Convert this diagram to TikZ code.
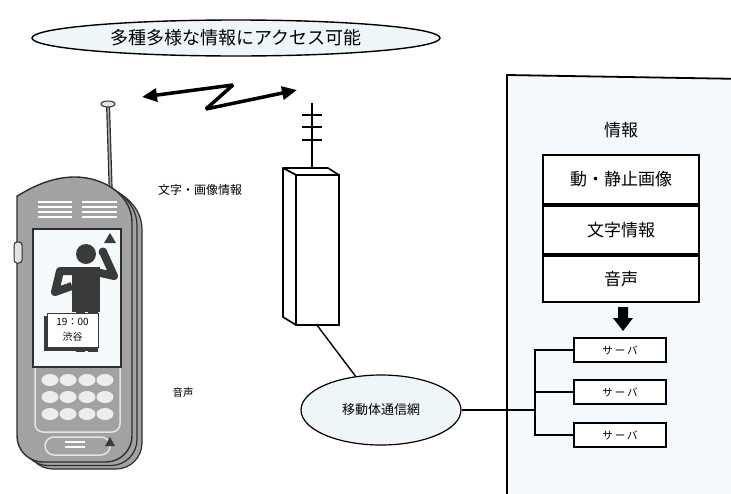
\documentclass[tikz,border=0pt]{standalone}
\usepackage{fontspec}
\newfontfamily\jpfont{Noto Sans CJK JP}
\usetikzlibrary{shapes.geometric,arrows.meta}

\definecolor{paleblue}{HTML}{EEF6FA}
\definecolor{panelblue}{HTML}{F3F9FC}
\definecolor{screenfill}{HTML}{F4FAFC}
\definecolor{casegray}{HTML}{A2A2A2}
\definecolor{caseedge}{HTML}{2E2E2E}
\definecolor{figure}{HTML}{3A3A3A}
\definecolor{keywhite}{HTML}{EDEDED}
\definecolor{trim}{HTML}{E4E4E4}

\newcommand\jpsize[1]{\jpfont\fontsize{#1}{#1}\selectfont}

\begin{document}
\begin{tikzpicture}[x=1pt,y=-1pt,
  bubble/.style={ellipse, draw, line width=1.4pt, fill=paleblue, inner sep=0pt},
  infobox/.style={draw, line width=1.8pt, fill=white, minimum width=156pt, inner sep=0pt, font=\jpsize{17}},
  serverbox/.style={draw, line width=1.6pt, fill=white, minimum width=92pt, minimum height=24pt, inner sep=0pt, font=\jpsize{10.5}},
  wire/.style={line width=1.4pt},
  caption/.style={font=\jpsize{12}, inner sep=0pt},
  casebody/.pic={\draw[pic actions] (17,222) arc[start angle=180, end angle=360, x radius=57.5, y radius=45]
      [rounded corners=26pt] -- (132,462) -- (17,462) -- cycle;},
]
\useasboundingbox (0,0) rectangle (731,493);
\clip (0,0) rectangle (731,493);
\fill[white] (0,0) rectangle (731,493);

% slogan bubble
\node[bubble, minimum width=408pt, minimum height=36pt, font=\jpsize{18}] (slogan) at (236,38) {多種多様な情報にアクセス可能};

% radio link between handset and base station
\coordinate (linkL) at (142,97);
\coordinate (zigA) at (233,85);
\coordinate (zigB) at (206,109);
\coordinate (linkR) at (297,90);
\draw[line width=3.5pt, miter limit=3, {Triangle[length=15pt,width=13pt]}-{Triangle[length=15pt,width=13pt]}]
  (linkL) -- (zigA) -- (zigB) -- (linkR);

% base station mast and housing
\coordinate (mastTop) at (312,103);
\coordinate (mastBase) at (312,168);
\draw[line width=1.6pt] (mastTop) -- (mastBase);
\foreach \y in {115,127,140} \draw[line width=1.8pt] (302,\y) -- (322,\y);
\draw[line width=1.6pt, fill=white, line join=round] (283,168) -- (328,168) -- (339,175) -- (296,175) -- cycle;
\draw[line width=1.6pt, fill=white, line join=round] (283,168) -- (296,175) -- (296,325) -- (283,317) -- cycle;
\node[draw, line width=1.6pt, fill=white, minimum width=43pt, minimum height=150pt, inner sep=0pt] (tower) at (317.5,250) {};

% labels of the link
\node[caption] (imglabel) at (200,190) {文字・画像情報};
\node[caption, font=\jpsize{10.5}] (voicelabel) at (183,393) {音声};

% mobile network
\node[bubble, line width=1.2pt, minimum width=160pt, minimum height=70pt, font=\jpsize{13}] (net) at (381,410) {移動体通信網};
\draw[wire] (tower.south) -- (net);

% information provider panel
\draw[line width=1.8pt, fill=panelblue] (507,75) -- (745,79) -- (745,510) -- (507,510) -- cycle;
\node[font=\jpsize{17}, inner sep=0pt] (infotitle) at (621,130) {情報};
\node[infobox, minimum height=49pt] (media) at (621,179.5) {動・静止画像};
\node[infobox, minimum height=48pt, anchor=north] (textinfo) at (media.south) {文字情報};
\node[infobox, minimum height=46pt, anchor=north] (sound) at (textinfo.south) {音声};

\coordinate (arrowTop) at (623,307);
\fill (arrowTop) ++(-5,0) -- ++(10,0) -- ++(0,11) -- ++(5,0) -- ++(-10,13) -- ++(-10,-13) -- ++(5,0) -- cycle;

\node[serverbox] (srvA) at (620,350) {サ\hspace{2pt}ー\hspace{2pt}バ};
\node[serverbox] (srvB) at (620,392) {サ\hspace{2pt}ー\hspace{2pt}バ};
\node[serverbox] (srvC) at (620,435) {サ\hspace{2pt}ー\hspace{2pt}バ};
\coordinate (bus) at (535,410);
\draw[wire] (srvA.west) -- (srvA.west -| bus) -- (srvC.west -| bus) -- (srvC.west);
\draw[wire] (srvB.west) -- (srvB.west -| bus);
\draw[wire] (net.east) -- (bus);

% handset: antenna
\coordinate (antTip) at (108,104);
\coordinate (antFoot) at (111,200);
\draw[line width=4pt, caseedge] (antTip) -- (antFoot);
\draw[line width=1.6pt, gray!70] (antTip) -- (antFoot);
\draw[fill=trim, draw=caseedge, line width=1pt] (antTip) ellipse[x radius=7, y radius=3];

% handset: body layers
\pic[fill=casegray, draw=caseedge, line width=1.2pt] (layerBack) at (10,7) {casebody};
\pic[fill=casegray, draw=caseedge, line width=1.2pt] (layerMid) at (5,3.5) {casebody};
\pic[fill=casegray, draw=caseedge, line width=1.4pt] (layerFront) at (0,0) {casebody};

% speaker slits
\foreach \y in {202,207,212,217} {
  \draw[white, line width=1.8pt] (38,\y) -- (72,\y);
  \draw[white, line width=1.8pt] (82,\y) -- (117,\y);
}
% side key
\draw[fill=trim, draw=caseedge, line width=1pt, rounded corners=3pt] (14,242) rectangle (22,263);

% keypad
\draw[trim, line width=1.5pt, rounded corners=8pt] (35,355) rectangle (120,432);
\foreach \cx in {50,68,87,105}
  \foreach \cy in {380,397,414}
    \fill[keywhite] (\cx,\cy) ellipse[x radius=8.5, y radius=6];
\draw[trim, line width=1.5pt, rounded corners=9pt] (45,437) rectangle (110,455);
\draw[white, line width=1.5pt] (65,442) -- (85,442);
\draw[white, line width=1.5pt] (65,447) -- (85,447);
\fill[figure] (110,437) -- (115,446) -- (105,446) -- cycle;

% display
\node[draw=caseedge, line width=1.6pt, fill=screenfill, minimum width=88pt, minimum height=138pt, inner sep=0pt] (screen) at (77,298) {};
\fill[figure] (110,233) -- (116,243) -- (104,243) -- cycle;

% caller on the display
\fill[figure] (76,300) rectangle (85,352);
\fill[figure] (88,300) rectangle (98,352);
\fill[figure] (72,267) rectangle (100,312);
\fill[figure] (86,254) circle[radius=10];
\draw[figure, line width=8pt, line join=round] (74,271) -- (60,271) -- (55,292) -- (72,286);
\draw[figure, line width=8pt, line join=round] (96,272) -- (114,276) -- (104,254);
\fill[figure] (103,252) circle[radius=4.5];

% time and place sign
\fill[figure] (44,316) rectangle (95,351);
\node[draw=figure, line width=1pt, fill=white, minimum width=51pt, minimum height=34pt, inner sep=0pt, align=center,
      font=\jpfont\fontsize{10}{15}\selectfont] (sign) at (72.5,330) {19：00\\渋谷};
\end{tikzpicture}
\end{document}
